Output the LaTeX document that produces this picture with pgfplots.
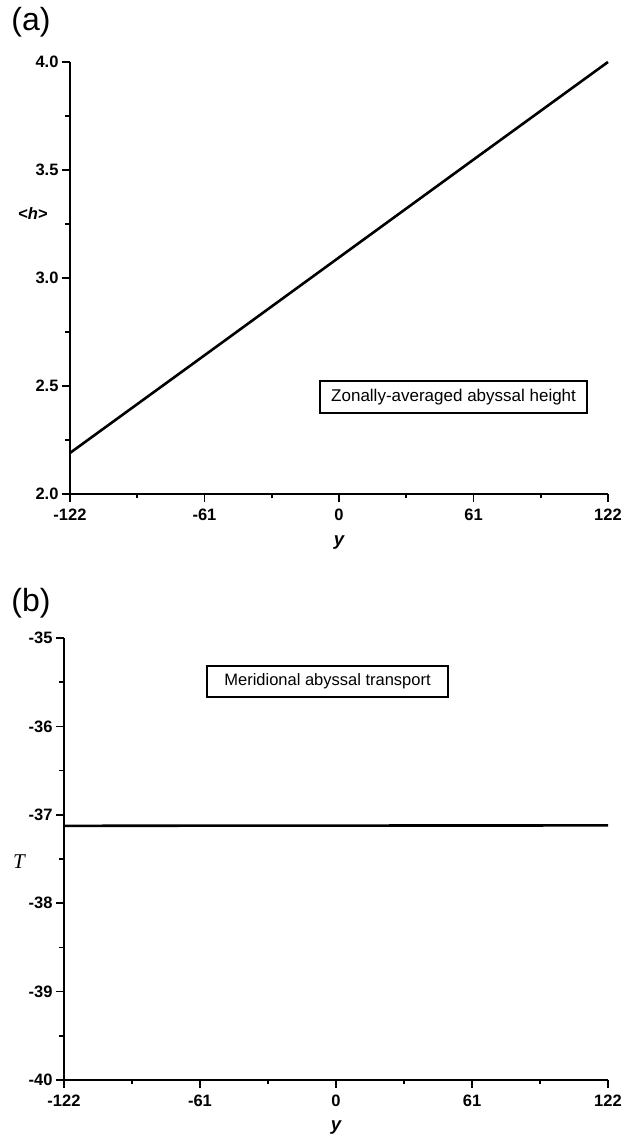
\documentclass[border=0pt]{standalone}
\usepackage{pgfplots}
\pgfplotsset{compat=1.18}
\usepackage{fontspec}
\setmainfont{Liberation Sans}
\newfontfamily\serifit{Liberation Serif}
\begin{document}
\begin{tikzpicture}
\useasboundingbox (0,0) rectangle (623pt,1137pt);
\pgfplotsset{
  myaxis/.style={
    scale only axis,
    anchor=south west,
    axis x line*=bottom,
    axis y line*=left,
    tick align=outside,
    major tick length=8pt,
    minor tick length=4.5pt,
    minor tick num=1,
    axis line style={line width=1.8pt, black},
    every tick/.style={line width=1.6pt, black},
    /pgf/number format/assume math mode=true,
    tick label style={font=\fontsize{16.5}{18}\selectfont\bfseries},
    xticklabel style={yshift=-3pt},
    xmin=-122, xmax=122,
    xtick={-122,-61,0,61,122},
    xticklabels={-122,-61,0,61,122},
    clip=false,
  }
}
% ---------------- panel (a)
\begin{axis}[myaxis,
  at={(70pt,643pt)},
  width=538pt, height=432pt,
  ymin=2, ymax=4,
  ytick={2,2.5,3,3.5,4},
  yticklabels={2.0,2.5,3.0,3.5,4.0},
]
\addplot[black, line width=2.6pt] coordinates {
  (-122,2.19) (-61,2.642) (0,3.095) (61,3.548) (122,4.0)
};
\node[draw, line width=1.3pt, minimum width=267pt, minimum height=32pt, inner sep=0pt,
  font=\fontsize{17}{19}\selectfont] at (rel axis cs:0.713,0.2245)
  {Zonally-averaged abyssal height};
\node[font=\fontsize{32}{34}\selectfont] at (axis description cs:-0.0725,1.0926) {(a)};
\node[font=\fontsize{18.5}{20}\selectfont\bfseries\itshape] at (axis description cs:0.5,0) [yshift=-49pt] {y};
\node[font=\fontsize{16.5}{18}\selectfont\bfseries] at (axis description cs:0,0.65) [xshift=-37pt] {<\textit{h}>};
\end{axis}
% ---------------- panel (b)
\begin{axis}[myaxis,
  at={(64pt,57pt)},
  width=544pt, height=442pt,
  ymin=-40, ymax=-35,
  ytick={-40,-39,-38,-37,-36,-35},
  yticklabels={-40,-39,-38,-37,-36,-35},
]
\addplot[black, line width=2.6pt] coordinates {
  (-122,-37.125) (-61,-37.123) (0,-37.122) (61,-37.121) (122,-37.12)
};
\node[draw, line width=1.3pt, minimum width=241pt, minimum height=31pt, inner sep=0pt,
  font=\fontsize{16.5}{18}\selectfont] at (rel axis cs:0.4844,0.9016)
  {Meridional abyssal transport};
\node[font=\fontsize{32}{34}\selectfont] at (axis description cs:-0.0607,1.079) {(b)};
\node[font=\fontsize{18.5}{20}\selectfont\bfseries\itshape] at (axis description cs:0.5,0) [yshift=-48pt] {y};
\node[font=\fontsize{21}{23}\selectfont\serifit\itshape] at (axis description cs:0,0.493) [xshift=-45pt] {T};
\end{axis}
\end{tikzpicture}
\end{document}
